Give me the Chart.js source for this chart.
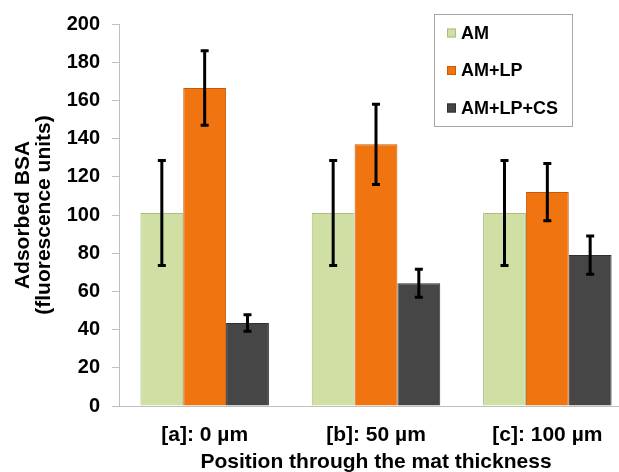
<!DOCTYPE html>
<html>
<head>
<meta charset="utf-8">
<script src="https://cdn.jsdelivr.net/npm/chart.js@4"></script>
<style>
    html, body { margin: 0; padding: 0; overflow: hidden; background: #fff; }
    #wrap { position: relative; width: 640px; height: 480px; }
</style>
</head>
<body>
<div id="wrap"><canvas id="bsaChart"></canvas></div>
<script>
// data
const categories = ["[a]: 0 µm", "[b]: 50 µm", "[c]: 100 µm"];
const seriesNames = ["AM", "AM+LP", "AM+LP+CS"];
const amValues = [101, 101, 101];
const amErrors = [27.5, 27.5, 27.5];
const lpValues = [166.5, 137, 112];
const lpErrors = [19.5, 21, 15];
const csValues = [43.5, 64.3, 79];
const csErrors = [4.3, 7.3, 10];
const yTicks = [0, 20, 40, 60, 80, 100, 120, 140, 160, 180, 200];

const FONT = "'Liberation Sans', Arial, sans-serif";
const axisGray = "#bfbfbf";

// error bars drawn on top of each bar
const errorBars = {
    id: "errorBars",
    afterDatasetsDraw(chart) {
        const c = chart.ctx;
        const y = chart.scales.y;
        c.save();
        c.strokeStyle = "#000";
        c.lineWidth = 3;
        chart.data.datasets.forEach((ds, i) => {
            const meta = chart.getDatasetMeta(i);
            meta.data.forEach((bar, j) => {
                const v = ds.data[j];
                const e = ds.errors[j];
                const top = y.getPixelForValue(v + e);
                const bot = y.getPixelForValue(v - e);
                c.beginPath();
                c.moveTo(bar.x, top);
                c.lineTo(bar.x, bot);
                c.moveTo(bar.x - 4, top);
                c.lineTo(bar.x + 4, top);
                c.moveTo(bar.x - 4, bot);
                c.lineTo(bar.x + 4, bot);
                c.stroke();
            });
        });
        c.restore();
    },
};

// boxed legend in the upper right
const boxLegend = {
    id: "boxLegend",
    afterDraw(chart) {
        const c = chart.ctx;
        c.save();
        c.fillStyle = "#fff";
        c.fillRect(434.5, 14.5, 138, 112);
        c.strokeStyle = "#a6a6a6";
        c.lineWidth = 1;
        c.strokeRect(434.5, 14.5, 138, 112);
        c.font = "bold 18px " + FONT;
        c.textBaseline = "middle";
        chart.data.datasets.forEach((ds, i) => {
            const cy = 33 + i * 37.5;
            c.fillStyle = ds.backgroundColor;
            c.fillRect(447, cy - 4.5, 9, 9);
            c.strokeStyle = ds.borderColor;
            c.strokeRect(447.5, cy - 4, 8, 8);
            c.fillStyle = "#000";
            c.fillText(ds.label, 461, cy + 1);
        });
        c.restore();
    },
};

new Chart(document.getElementById("bsaChart"), {
    type: "bar",
    data: {
        labels: categories,
        datasets: [
            {
                label: seriesNames[0],
                data: amValues,
                errors: amErrors,
                backgroundColor: "#d0e0a5",
                borderColor: "#a9bf7c",
                borderWidth: 1,
            },
            {
                label: seriesNames[1],
                data: lpValues,
                errors: lpErrors,
                backgroundColor: "#f07511",
                borderColor: "#c65c08",
                borderWidth: 1,
            },
            {
                label: seriesNames[2],
                data: csValues,
                errors: csErrors,
                backgroundColor: "#464646",
                borderColor: "#303030",
                borderWidth: 1,
            },
        ],
    },
    options: {
        responsive: true,
        maintainAspectRatio: false,
        animation: false,
        layout: { padding: { top: 23, right: 7, bottom: 0, left: 0 } },
        datasets: {
            bar: { categoryPercentage: 0.75, barPercentage: 1.0 },
        },
        plugins: {
            legend: { display: false },
            tooltip: { enabled: false },
        },
        scales: {
            x: {
                grid: { display: false },
                border: { display: true, color: axisGray, width: 1 },
                ticks: {
                    color: "#000",
                    font: { family: FONT, size: 21, weight: "bold" },
                    padding: 9,
                },
                title: {
                    display: true,
                    text: "Position through the mat thickness",
                    color: "#000",
                    font: { family: FONT, size: 21, weight: "bold", lineHeight: 1.2 },
                    padding: { top: 2, bottom: 5 },
                },
                afterFit(scale) {
                    scale.height = 74;
                },
            },
            y: {
                min: 0,
                max: 200,
                afterBuildTicks(scale) {
                    scale.ticks = yTicks.map((v) => ({ value: v }));
                },
                grid: {
                    drawOnChartArea: false,
                    drawTicks: true,
                    tickLength: 7,
                    color: axisGray,
                },
                border: { display: true, color: axisGray, width: 1 },
                ticks: {
                    color: "#000",
                    font: { family: FONT, size: 20, weight: "bold" },
                    padding: 12,
                },
                title: {
                    display: true,
                    text: ["Adsorbed BSA", "(fluorescence units)"],
                    color: "#000",
                    font: { family: FONT, size: 21, weight: "bold", lineHeight: 1.0 },
                    padding: { top: 13, bottom: 0 },
                },
                afterFit(scale) {
                    scale.width = 119;
                },
            },
        },
    },
    plugins: [errorBars, boxLegend],
});
</script>
</body>
</html>
